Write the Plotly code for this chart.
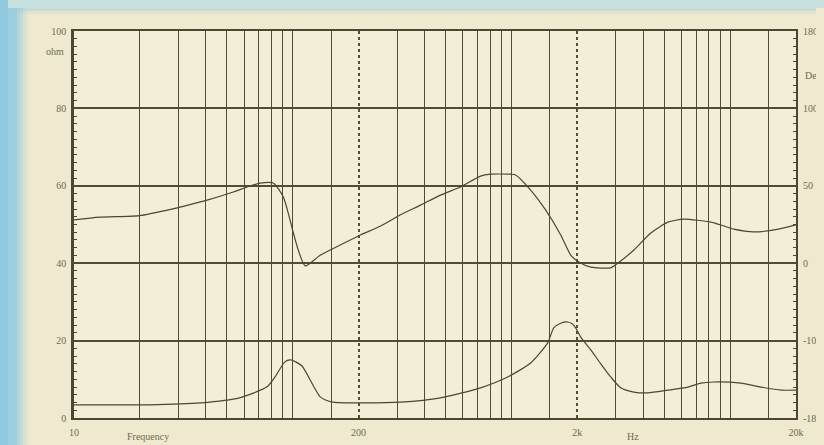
import plotly.graph_objects as go

# ---- data ----
imp_freq = [10, 22, 38, 57, 76, 83, 92, 98, 110, 134, 153, 204, 311, 474, 722, 961,
            1224, 1465, 1561, 1680, 1807, 1900, 1966, 2074, 2306, 2561, 2844, 3160,
            3630, 4207, 5190, 6410, 7350, 8430, 11200, 13800, 17100, 20000]
imp_ohm = [3.4, 3.4, 3.9, 5.2, 8.0, 10.6, 14.5, 15.0, 13.5, 5.4, 4.1, 3.9, 4.1, 5.2, 7.8, 10.6,
           14.2, 19.4, 23.3, 24.5, 24.8, 24.3, 23.3, 20.9, 17.6, 14.0, 10.6, 7.8,
           6.7, 6.5, 7.2, 8.0, 9.0, 9.3, 9.0, 8.0, 7.2, 7.2]

ph_freq = [10, 13.1, 20, 26.7, 30.6, 40.6, 53.5, 62, 71, 81.5, 90.6, 100.7, 106, 114, 134,
           165, 204, 252, 311, 384, 474, 585, 722, 803, 992, 1045, 1224, 1435, 1680, 1866,
           2031, 2306, 2844, 3063, 3630, 4335, 5190, 6140, 8170, 9370, 10400, 12850, 15900, 20000]
ph_val = [51.2, 51.9, 52.3, 53.7, 54.5, 56.3, 58.4, 59.7, 60.7, 60.7, 57.1, 47.8, 43.4, 39.3, 42.1,
          44.7, 47.3, 49.6, 52.5, 55.0, 57.6, 59.7, 62.5, 63.0, 63.0, 62.8, 58.9, 53.7, 47.3, 42.1,
          40.3, 39.0, 38.8, 40.0, 43.4, 47.8, 50.6, 51.4, 50.6, 49.6, 48.8, 48.1, 48.6, 49.9]

x_major = [10, 200, 2000, 20000]
x_major_text = ["10", "200", "2k", "20k"]
x_minor = [20, 30, 40, 50, 60, 70, 80, 90, 100, 150, 300, 400, 500, 600, 700, 800, 900, 1000,
           1500, 3000, 4000, 5000, 6000, 7000, 8000, 9000, 10000, 15000]
y_ticks = [0, 20, 40, 60, 80, 100]
y_left_text = ["0", "20", "40", "60", "80", "100"]
y_right_text = ["-180", "-100", "0", "50", "100", "180"]

ink = "#4a4734"
grid = "#4f4c38"
txt = "#6e6a52"
paper = "#efe9cf"
font = dict(family="Liberation Serif", size=10, color=txt)

# page is offset by the 8px body margin
OFF = 8
W, H = 824 - OFF, 445 - OFF
L, T, R, B = 74 - OFF, 31 - OFF, 28, 27

fig = go.Figure()
fig.add_trace(go.Scatter(x=imp_freq, y=imp_ohm, mode="lines",
                         line=dict(color=ink, width=1.2, shape="spline", smoothing=0.6),
                         showlegend=False, hoverinfo="skip"))
fig.add_trace(go.Scatter(x=ph_freq, y=ph_val, mode="lines", yaxis="y2",
                         line=dict(color=ink, width=1.2, shape="spline", smoothing=0.6),
                         showlegend=False, hoverinfo="skip"))

fig.update_layout(
    width=W, height=H,
    margin=dict(l=L, r=R, t=T, b=B),
    paper_bgcolor=paper,
    plot_bgcolor="#f3eed6",
    font=font,
    xaxis=dict(type="log", range=[1, 4.30103], tickmode="array", tickvals=x_major, ticktext=x_major_text,
               showgrid=True, gridcolor=grid, gridwidth=2, griddash="dot",
               minor=dict(tickmode="array", tickvals=x_minor, showgrid=True, gridcolor=grid,
                          gridwidth=1, griddash="solid"),
               showline=True, linecolor=ink, linewidth=2, mirror=True, ticks="", ticklabelstandoff=4,
               tickfont=font, zeroline=False, automargin=False),
    yaxis=dict(range=[0, 100], tickmode="array", tickvals=y_ticks, ticktext=y_left_text,
               showgrid=True, gridcolor=grid, gridwidth=1.5, zeroline=False,
               showline=True, linecolor=ink, linewidth=2.5, ticks="inside", ticklen=4, tickcolor=ink,
               minor=dict(dtick=2, ticks="inside", ticklen=3, tickcolor=ink, showgrid=False),
               tickfont=font, ticklabelstandoff=3, automargin=False),
    yaxis2=dict(range=[0, 100], overlaying="y", side="right", tickmode="array", tickvals=y_ticks,
                ticktext=y_right_text, showgrid=False, zeroline=False,
                showline=True, linecolor=ink, linewidth=2, ticks="inside", ticklen=4, tickcolor=ink,
                minor=dict(dtick=2, ticks="inside", ticklen=3, tickcolor=ink, showgrid=False),
                tickfont=font, ticklabelstandoff=3, automargin=False),
)

# scanned-page blue edges (in page pixels, converted to paper fractions)
blue = "#9ccfe0"
pw = W - L - R
ph = H - T - B


def px(xp):
    return (xp - OFF - L) / pw


def py(yp):
    return (H - B - (yp - OFF)) / ph


for i, op in enumerate([1.0, 0.75, 0.5, 0.28, 0.12]):
    x0 = 8 + i * 3 + (0 if i == 0 else 6)
    x1 = 8 + i * 3 + 9
    fig.add_shape(type="rect", xref="paper", yref="paper", x0=px(x0), x1=px(x1),
                  y0=py(450), y1=py(0), fillcolor=blue, opacity=op, line=dict(width=0), layer="below")
for i, op in enumerate([0.45, 0.2]):
    fig.add_shape(type="rect", xref="paper", yref="paper", x0=px(8), x1=px(830),
                  y0=py(8 + i * 3 + 3), y1=py(8 + i * 3),
                  fillcolor=blue, opacity=op, line=dict(width=0), layer="below")

fig.add_annotation(text="ohm", xref="paper", yref="paper", x=px(66), y=py(52),
                   xanchor="right", yanchor="middle", showarrow=False, font=font)
fig.add_annotation(text="Deg", xref="paper", yref="paper", x=px(803), y=py(75),
                   xanchor="left", yanchor="middle", showarrow=False, font=font)
fig.add_annotation(text="Frequency", xref="paper", yref="paper", x=px(125), y=py(436),
                   xanchor="left", yanchor="middle", showarrow=False, font=font)
fig.add_annotation(text="Hz", xref="paper", yref="paper", x=px(625), y=py(436),
                   xanchor="left", yanchor="middle", showarrow=False, font=font)

body_bg = ("linear-gradient(90deg,#8fcae0 0,#8fcae0 8px,rgba(0,0,0,0) 8px),"
           "linear-gradient(180deg,#c9e2e0 0,#c9e2e0 8px," + paper + " 8px)")
fig.write_html("out.html",
               post_script="document.body.style.background='" + body_bg + "';")
